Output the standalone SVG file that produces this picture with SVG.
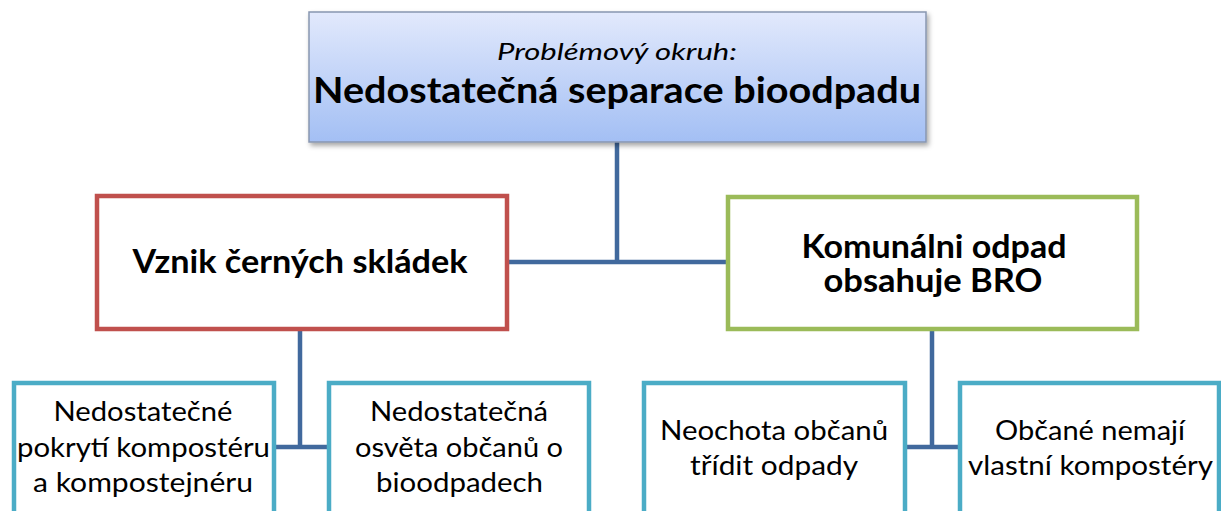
<svg xmlns="http://www.w3.org/2000/svg" width="1221" height="511" viewBox="0 0 1221 511">
<style>
.t{font-family:Lato,"Open Sans","Liberation Sans",sans-serif;fill:#000;text-anchor:middle}
.b{font-weight:bold}
.s{font-size:27px}
.box{fill:#fff;stroke-width:4.5}
.cyan{stroke:#4bacc6}
.con{stroke:#41699d;stroke-width:4.5;fill:none}
</style>
<defs>
<linearGradient id="g" x1="0" y1="0" x2="0" y2="1">
<stop offset="0" stop-color="#e2e9fc"/>
<stop offset="1" stop-color="#a3bff4"/>
</linearGradient>
<filter id="sh" x="-5%" y="-10%" width="112%" height="130%">
<feDropShadow dx="2" dy="3" stdDeviation="2.5" flood-color="#000" flood-opacity="0.35"/>
</filter>
</defs>
<g id="connectors">
<path class="con" d="M617 142 V262 M507 262 H728"/>
<path class="con" d="M300 329 V447 M274 447 H329"/>
<path class="con" d="M932 329 V447 M905 447 H960"/>
</g>
<g id="top">
<rect x="309" y="12" width="617" height="130" fill="url(#g)" stroke="#8896b0" stroke-width="1.5" filter="url(#sh)"/>
<text class="t" x="617" y="60" font-size="24" font-style="italic" textLength="240" lengthAdjust="spacingAndGlyphs">Problémový okruh:</text>
<text class="t b" x="617" y="103" font-size="37" textLength="608" lengthAdjust="spacingAndGlyphs">Nedostatečná separace bioodpadu</text>
</g>
<g id="red">
<rect class="box" x="97" y="196" width="410" height="133" stroke="#c0504d"/>
<text class="t b" x="300" y="273" font-size="33" textLength="335" lengthAdjust="spacingAndGlyphs">Vznik černých skládek</text>
</g>
<g id="green">
<rect class="box" x="728" y="197" width="409" height="132" stroke="#9bbb59"/>
<text class="t b" x="934" y="258" font-size="32" textLength="265" lengthAdjust="spacingAndGlyphs">Komunálni odpad</text>
<text class="t b" x="933" y="292" font-size="32" textLength="219" lengthAdjust="spacingAndGlyphs">obsahuje BRO</text>
</g>
<g id="b1">
<rect class="box cyan" x="14" y="383" width="260" height="140"/>
<text class="t s" x="143" y="421" textLength="179" lengthAdjust="spacingAndGlyphs">Nedostatečné</text>
<text class="t s" x="143.5" y="457" textLength="253" lengthAdjust="spacingAndGlyphs">pokrytí kompostéru</text>
<text class="t s" x="143" y="492" textLength="220" lengthAdjust="spacingAndGlyphs">a kompostejnéru</text>
</g>
<g id="b2">
<rect class="box cyan" x="329" y="383" width="260" height="140"/>
<text class="t s" x="459" y="421" textLength="178" lengthAdjust="spacingAndGlyphs">Nedostatečná</text>
<text class="t s" x="459" y="457" textLength="208" lengthAdjust="spacingAndGlyphs">osvěta občanů o</text>
<text class="t s" x="459.5" y="492" textLength="167" lengthAdjust="spacingAndGlyphs">bioodpadech</text>
</g>
<g id="b3">
<rect class="box cyan" x="644" y="383" width="261" height="140"/>
<text class="t s" x="774" y="440" textLength="228" lengthAdjust="spacingAndGlyphs">Neochota občanů</text>
<text class="t s" x="774" y="475" textLength="168" lengthAdjust="spacingAndGlyphs">třídit odpady</text>
</g>
<g id="b4">
<rect class="box cyan" x="960" y="383" width="259" height="140"/>
<text class="t s" x="1090" y="440" textLength="190" lengthAdjust="spacingAndGlyphs">Občané nemají</text>
<text class="t s" x="1090.5" y="475" textLength="245" lengthAdjust="spacingAndGlyphs">vlastní kompostéry</text>
</g>
</svg>
